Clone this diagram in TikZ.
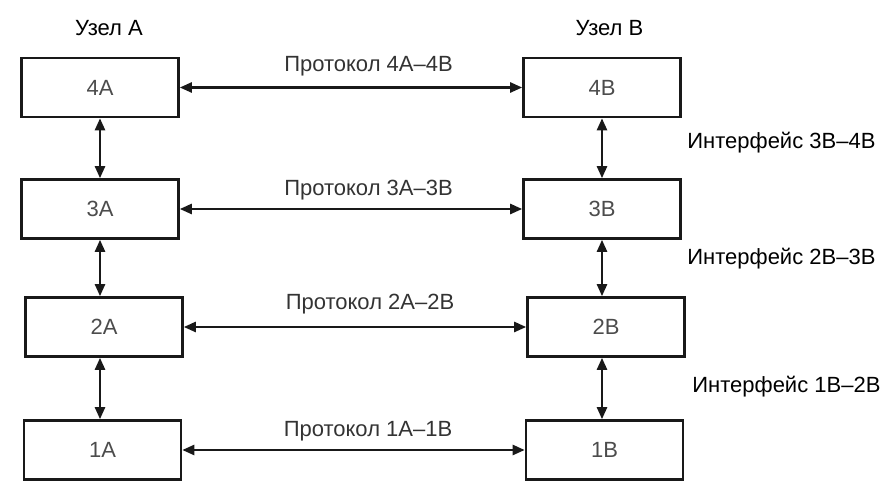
\documentclass[tikz,border=0pt]{standalone}
\usepackage{fontspec}
\setmainfont{Liberation Sans}
\usetikzlibrary{arrows.meta}
\begin{document}
\begin{tikzpicture}[x=0.5pt,y=-0.5pt,
  font=\fontsize{11}{13}\selectfont,
  layer/.style={draw=black!90,line width=1.3pt,minimum width=78.5pt,minimum height=29.5pt,inner sep=0pt,text=black!70},
  link/.style={line width=1.2pt,draw=black!90,{Triangle[length=6pt,width=5pt]}-{Triangle[length=6pt,width=5pt]}},
  proto/.style={text=black!80,inner sep=0pt},
  iface/.style={anchor=west,inner sep=0pt},
  title/.style={inner sep=0pt}]
\useasboundingbox (0,0) rectangle (891,481);
% nodes side A
\node[layer] (a4) at (100,87.5) {4A};
\node[layer] (a3) at (100,209) {3A};
\node[layer] (a2) at (104,327) {2A};
\node[layer] (a1) at (102.5,450) {1A};
% nodes side B
\node[layer] (b4) at (602,87.5) {4B};
\node[layer] (b3) at (602,209) {3B};
\node[layer] (b2) at (606,327) {2B};
\node[layer] (b1) at (604.5,450) {1B};
% titles
\node[title] (ta) at (109,28.5) {Узел A};
\node[title] (tb) at (609.5,28.5) {Узел B};
% protocol labels
\node[proto] (p4) at (368.5,66) {Протокол 4A–4B};
\node[proto] (p3) at (368.5,190) {Протокол 3A–3B};
\node[proto] (p2) at (370,304) {Протокол 2A–2B};
\node[proto] (p1) at (368,431) {Протокол 1A–1B};
% interface labels
\node[iface] (i34) at (687,143) {Интерфейс 3B–4B};
\node[iface] (i23) at (687,259) {Интерфейс 2B–3B};
\node[iface] (i12) at (692,387) {Интерфейс 1B–2B};
% horizontal links
\draw[link] (a4.east) -- (b4.west);
\draw[link] (a3.east) -- (b3.west);
\draw[link] (a2.east) -- (b2.west);
\draw[link] (a1.east) -- (b1.west);
% vertical links
\draw[link] (a4.south) -- (a4.south |- a3.north);
\draw[link] (a3.south) -- (a3.south |- a2.north);
\draw[link] (a3.south |- a2.south) -- (a3.south |- a1.north);
\draw[link] (b4.south) -- (b4.south |- b3.north);
\draw[link] (b3.south) -- (b3.south |- b2.north);
\draw[link] (b3.south |- b2.south) -- (b3.south |- b1.north);
\end{tikzpicture}
\end{document}
